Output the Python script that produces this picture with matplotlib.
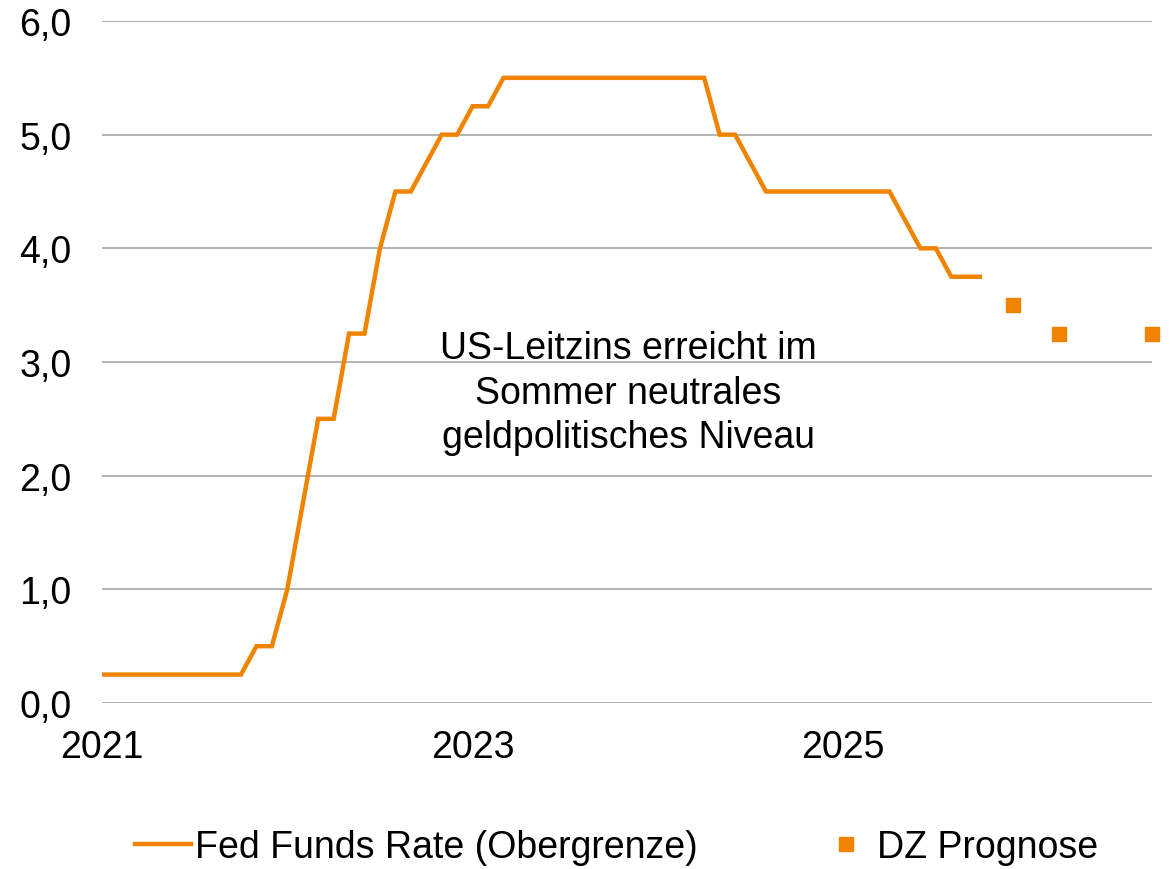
import numpy as np
import matplotlib.pyplot as plt
from matplotlib.lines import Line2D

plt.rcParams['font.family'] = ['Liberation Sans', 'DejaVu Sans']

# Fed Funds Rate (Obergrenze), monatlich, Index 0 = erster Monat der Achse
fed_rate = ([0.25] * 10 + [0.5, 0.5, 1.0, 1.75, 2.5, 2.5, 3.25, 3.25, 4.0, 4.5, 4.5,
            4.75, 5.0, 5.0, 5.25, 5.25] + [5.5] * 14 + [5.0, 5.0, 4.75] + [4.5] * 9 +
            [4.25, 4.0, 4.0, 3.75, 3.75, 3.75])
fed_x = np.arange(len(fed_rate))

# DZ Prognose
prog_x = [59, 62, 68]
prog_rate = [3.5, 3.25, 3.25]

year_ticks = [0, 24, 48]
year_labels = ['2021', '2023', '2025']

orange = '#F08300'

fig = plt.figure(figsize=(11.7, 8.7), dpi=100)
ax = fig.add_axes([0.0872, 0.1908, 0.8974, 0.7839])

ax.plot(fed_x, fed_rate, color=orange, linewidth=3.2, solid_joinstyle='miter',
        solid_capstyle='butt', zorder=3)
ax.plot(prog_x, prog_rate, linestyle='none', marker='s', markersize=10,
        color=orange, zorder=3, clip_on=False)

ax.set_xlim(0, 68)
ax.set_ylim(0, 6)
ax.set_yticks(np.arange(0, 7, 1))
ax.set_yticklabels([f'{v:.1f}'.replace('.', ',') for v in np.arange(0, 7, 1)])
ax.set_xticks(year_ticks)
ax.set_xticklabels(year_labels)
ax.tick_params(axis='both', length=0, labelsize=27, colors='black')
ax.tick_params(axis='y', pad=22)
ax.tick_params(axis='x', pad=19)

ax.grid(axis='y', color='#a6a6a6', linewidth=1.2)
ax.set_axisbelow(True)
for s in ax.spines.values():
    s.set_visible(False)

ax.text(34.1, 2.73, 'US-Leitzins erreicht im\nSommer neutrales\ngeldpolitisches Niveau',
        ha='center', va='center', fontsize=27, linespacing=1.3)

handles = [Line2D([], [], color=orange, linewidth=3.2),
           Line2D([], [], color=orange, linestyle='none', marker='s', markersize=10)]
fig.legend(handles, ['Fed Funds Rate (Obergrenze)', 'DZ Prognose'],
           loc='center', bbox_to_anchor=(0.527, 0.025), ncol=2, frameon=False,
           fontsize=27, handlelength=1.5, handletextpad=0.1, columnspacing=3.2)

fig.savefig('out.png', dpi=100)
